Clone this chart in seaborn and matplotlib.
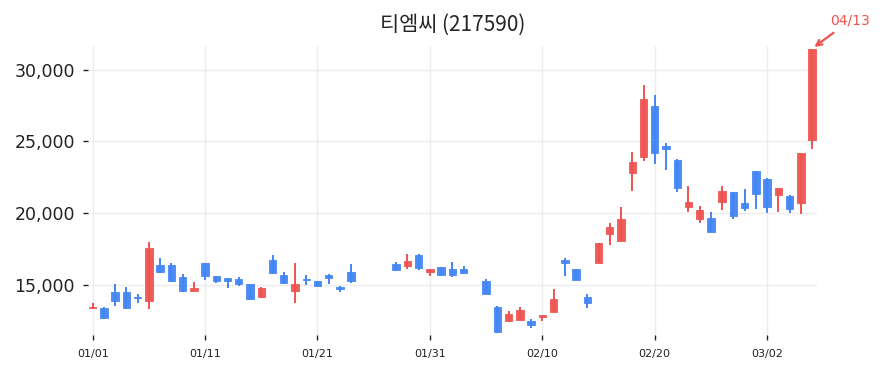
import numpy as np
import pandas as pd
import matplotlib
matplotlib.use("Agg")
import matplotlib.pyplot as plt
import matplotlib.dates as mdates
import matplotlib.ticker as mticker
import seaborn as sns

title = "티엠씨 (217590)"
last_label = "04/13"

dates = [
    "2023-01-01", "2023-01-02", "2023-01-03", "2023-01-04", "2023-01-05",
    "2023-01-06", "2023-01-07", "2023-01-08", "2023-01-09", "2023-01-10",
    "2023-01-11", "2023-01-12", "2023-01-13", "2023-01-14", "2023-01-15",
    "2023-01-16", "2023-01-17", "2023-01-18", "2023-01-19", "2023-01-20",
    "2023-01-21", "2023-01-22", "2023-01-23", "2023-01-24",
    "2023-01-28", "2023-01-29", "2023-01-30", "2023-01-31", "2023-02-01",
    "2023-02-02", "2023-02-03",
    "2023-02-05", "2023-02-06", "2023-02-07", "2023-02-08", "2023-02-09",
    "2023-02-10", "2023-02-11", "2023-02-12", "2023-02-13", "2023-02-14",
    "2023-02-15", "2023-02-16", "2023-02-17", "2023-02-18", "2023-02-19",
    "2023-02-20", "2023-02-21", "2023-02-22", "2023-02-23", "2023-02-24",
    "2023-02-25", "2023-02-26", "2023-02-27", "2023-02-28", "2023-03-01",
    "2023-03-02", "2023-03-03", "2023-03-04", "2023-03-05", "2023-03-06",
]
open_ = [
    13400, 13420, 14490, 14490, 14150, 13905, 16395, 16395, 15560, 14600,
    16510, 15630, 15470, 15440, 15050, 14190, 16745, 15700, 14600, 15420,
    15280, 15680, 14840, 15930,
    16465, 16350, 17090, 15885, 16230, 16115, 16115,
    15300, 13490, 12490, 12580, 12490, 12790, 13140, 16740, 16115, 14160,
    16555, 18580, 18070, 22830, 23930, 27490, 24650, 23720, 20400, 19600,
    19670, 20810, 21470, 20700, 22950, 22390, 21300, 21210, 20740, 25070,
]
high = [
    13765, 13450, 15050, 14840, 14370, 17980, 16860, 16510, 15770, 15190,
    16550, 15650, 15500, 15540, 15100, 14850, 17090, 15890, 16510, 15700,
    15300, 15750, 14950, 16440,
    16600, 17140, 17140, 16115, 16260, 16580, 16300,
    15420, 13530, 13160, 13445, 12630, 12910, 14700, 16880, 16150, 14350,
    17960, 19300, 20420, 24260, 28900, 28250, 24880, 23750, 21930, 20530,
    20070, 21930, 21490, 21670, 22970, 22430, 21790, 21260, 24200, 31460,
]
low = [
    13330, 12650, 13535, 13330, 13725, 13330, 15815, 15190, 14490, 14600,
    15350, 15160, 14770, 14930, 13950, 14150, 15780, 15080, 13725, 15000,
    14930, 15050, 14530, 15160,
    15955, 16100, 16025, 15630, 15700, 15540, 15790,
    14350, 11630, 12450, 12550, 12000, 12490, 13120, 15630, 15350, 13375,
    16530, 17790, 18040, 21560, 23650, 23420, 23020, 21470, 20070, 19350,
    18670, 20230, 19580, 20160, 20280, 20000, 20110, 20000, 19930, 24470,
]
close = [
    13480, 12700, 13905, 13420, 14100, 17560, 15930, 15300, 14600, 14810,
    15650, 15280, 15300, 15050, 14000, 14820, 15815, 15115, 15050, 15370,
    14950, 15510, 14700, 15280,
    16070, 16700, 16190, 16115, 15720, 15720, 15815,
    14370, 11740, 12980, 13260, 12230, 12910, 14000, 16510, 15370, 13765,
    17950, 19045, 19600, 23580, 27970, 24180, 24440, 21790, 20790, 20230,
    18700, 21560, 19790, 20390, 21370, 20420, 21790, 20320, 24200, 31460,
]

df = pd.DataFrame({"date": pd.to_datetime(dates), "open": open_, "high": high,
                   "low": low, "close": close})
up = df["close"] >= df["open"]
red, blue = "#ef5350", "#4285f4"
df["color"] = np.where(up, red, blue)
df["bottom"] = df[["open", "close"]].min(axis=1)
df["height"] = (df["close"] - df["open"]).abs().clip(lower=70)

sns.set_theme(style="whitegrid", rc={
    "grid.color": "#ececec", "grid.linewidth": 1.0,
    "xtick.bottom": True, "ytick.left": True,
    "xtick.color": "#222222", "ytick.color": "#222222",
    "xtick.major.size": 3.5, "ytick.major.size": 3.5,
    "xtick.major.width": 1.0, "ytick.major.width": 1.0,
})
plt.rcParams["font.family"] = ["DejaVu Sans", "Noto Sans CJK KR"]

fig, ax = plt.subplots(figsize=(8.84, 3.73), dpi=100)
fig.subplots_adjust(left=0.0995, right=0.924, bottom=0.101, top=0.877)

ax.vlines(df["date"], df["low"], df["high"], colors=df["color"], linewidth=1.4, zorder=2)
ax.bar(df["date"], df["height"], bottom=df["bottom"], width=0.66,
       color=df["color"], edgecolor=df["color"], linewidth=0.6, alpha=0.95, zorder=3)

for s in ax.spines.values():
    s.set_visible(False)

ax.set_ylim(11500, 31650)
ax.set_xlim(df["date"].iloc[0] - pd.Timedelta(hours=10),
            df["date"].iloc[-1] + pd.Timedelta(hours=10))
ax.yaxis.set_major_locator(mticker.MultipleLocator(5000))
ax.yaxis.set_major_formatter(mticker.StrMethodFormatter("{x:,.0f}"))
ax.set_xticks(pd.date_range("2023-01-01", "2023-03-02", freq="10D"))
ax.xaxis.set_major_formatter(mdates.DateFormatter("%m/%d"))
ax.tick_params(axis="y", labelsize=12.5, pad=6)
ax.tick_params(axis="x", labelsize=8, pad=6)
ax.set_xlabel("")
ax.set_ylabel("")

ax.set_title(title, fontsize=15, pad=11, family=["Noto Sans CJK KR", "DejaVu Sans"])

last = df.iloc[-1]
ax.annotate(last_label, xy=(last["date"], last["high"]), xytext=(27, 20),
            textcoords="offset points", ha="center", va="center",
            fontsize=10, color=red,
            arrowprops=dict(arrowstyle="->", color=red, lw=1.6))

fig.savefig("out.png", dpi=100)
